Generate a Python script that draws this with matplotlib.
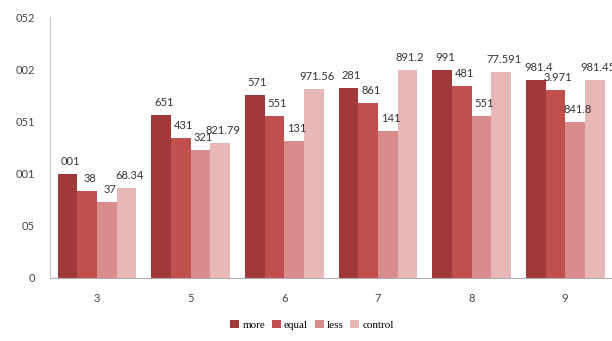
import matplotlib
matplotlib.use("Agg")
import matplotlib.pyplot as plt
import numpy as np

categories = ["3", "5", "6", "7", "8", "9"]
series_names = ["more", "equal", "less", "control"]
more = [100, 156, 175, 182, 199, 190]
equal = [83, 134, 155, 168, 184, 180]
less = [73, 123, 131, 141, 155, 149]
control = [86.5, 129, 181, 199, 197, 190]
# labels are shown mirrored in the source picture
more_labels = ["001", "651", "571", "281", "991", "981.4"]
equal_labels = ["38", "431", "551", "861", "481", "3.971"]
less_labels = ["37", "321", "131", "141", "551", "841.8"]
control_labels = ["68.34", "821.79", "971.56", "891.2", "77.591", "981.45"]
ytick_values = [0, 50, 100, 150, 200, 250]
ytick_labels = ["0", "05", "001", "051", "002", "052"]

colors = ["#A03A3A", "#C0504D", "#D98C8C", "#E8B7B7"]

fig = plt.figure(figsize=(6.12, 3.41), dpi=100)
ax = fig.add_axes([0.082, 0.185, 0.918, 0.765])

x = np.arange(len(categories))
w = 0.21
all_values = [more, equal, less, control]
all_labels = [more_labels, equal_labels, less_labels, control_labels]
for i, (vals, labs) in enumerate(zip(all_values, all_labels)):
    pos = x + (i - 1.5) * w
    ax.bar(pos, vals, width=w, color=colors[i], label=series_names[i])
    for p, v, t in zip(pos, vals, labs):
        ax.annotate(t, (p, v), xytext=(2, 5), textcoords="offset points",
                    ha="center", va="bottom", fontsize=8, color="#333333",
                    family="Lato")

ax.set_xlim(-0.5, len(categories) - 0.5)
ax.set_ylim(0, 250)
ax.set_xticks(x)
ax.set_xticklabels(categories, family="Lato", fontsize=8, color="#444444")
ax.set_yticks(ytick_values)
ax.set_yticklabels(ytick_labels, family="Lato", fontsize=8, color="#444444")
ax.tick_params(axis="y", length=0, pad=11)
ax.tick_params(axis="x", length=0, pad=11)
for s in ["top", "right"]:
    ax.spines[s].set_visible(False)
ax.spines["left"].set_color("#c8c8c8")
ax.spines["bottom"].set_color("#b0b0b0")

fig.legend(loc="center", bbox_to_anchor=(0.51, 0.047), ncol=4, frameon=False,
           handlelength=0.8, handleheight=0.8, handletextpad=0.3,
           columnspacing=0.6, prop={"family": "Liberation Serif", "size": 8})

fig.savefig("out.png", dpi=100)
